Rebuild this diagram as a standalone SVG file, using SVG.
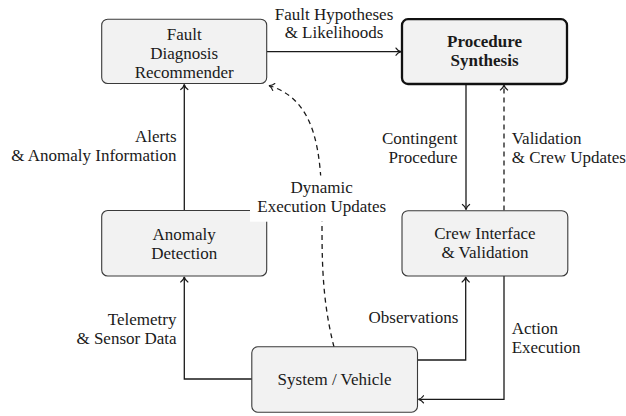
<svg xmlns="http://www.w3.org/2000/svg" width="626" height="416" viewBox="0 0 626 416">
<defs>
<style>
.box{fill:#f2f2f2;stroke:#3a3a3a;stroke-width:1.1}
.bold-box{fill:#f2f2f2;stroke:#111;stroke-width:2.3}
.t{font-family:"Liberation Serif","DejaVu Serif",serif;font-size:17px;fill:#1a1a1a}
.c{text-anchor:middle}
.r{text-anchor:end}
.b{font-weight:bold}
.edge{fill:none;stroke:#1a1a1a;stroke-width:1.3}
.dash{stroke-dasharray:5 4}
</style>
<marker id="arr" markerUnits="userSpaceOnUse" markerWidth="12" markerHeight="12" viewBox="-7 -6 8 12" refX="0" refY="0" orient="auto">
<path d="M-5,-3.6 C-3.6,-1.4 -1.6,-0.4 0,0 C-1.6,0.4 -3.6,1.4 -5,3.6" fill="none" stroke="#1a1a1a" stroke-width="1.2" stroke-dasharray="none" stroke-linecap="round"/>
</marker>
</defs>
<rect width="626" height="416" fill="#fff"/>

<g id="connectors">
<path class="edge" d="M267,51.7 H401" marker-end="url(#arr)"/>
<path class="edge" d="M184.3,210 V84.5" marker-end="url(#arr)"/>
<path class="edge" d="M466,84.5 V209.5" marker-end="url(#arr)"/>
<path class="edge dash" d="M504,210.5 V85" marker-end="url(#arr)"/>
<path class="edge" d="M252,379 H184.3 V277" marker-end="url(#arr)"/>
<path class="edge" d="M417.5,360 H465.7 V277" marker-end="url(#arr)"/>
<path class="edge" d="M504,276 V399.3 H418.5" marker-end="url(#arr)"/>
<path class="edge dash" d="M334,347 C322,300 322,260 322,220 C322,150 316,100 269,85.5" marker-end="url(#arr)"/>
</g>

<g id="node-fault-diagnosis">
<rect class="box" x="101.7" y="19.2" width="165" height="64.3" rx="6"/>
<text class="t c" x="184.2" y="39.5">Fault</text>
<text class="t c" x="184.2" y="58.5">Diagnosis</text>
<text class="t c" x="184.2" y="77.5">Recommender</text>
</g>

<g id="node-procedure-synthesis">
<rect class="bold-box" x="402" y="19.2" width="165" height="64.8" rx="6"/>
<text class="t c b" x="484.5" y="46.7">Procedure</text>
<text class="t c b" x="484.5" y="65.7">Synthesis</text>
</g>

<g id="node-anomaly-detection">
<rect class="box" x="101.7" y="210.5" width="165" height="65.5" rx="6"/>
<text class="t c" x="184.2" y="240">Anomaly</text>
<text class="t c" x="184.2" y="258.5">Detection</text>
</g>

<g id="node-crew-interface">
<rect class="box" x="402" y="210.7" width="165.8" height="65.3" rx="6"/>
<text class="t c" x="484.9" y="239.3">Crew Interface</text>
<text class="t c" x="484.9" y="257.5">&amp; Validation</text>
</g>

<g id="node-system-vehicle">
<rect class="box" x="251.8" y="346.8" width="165.7" height="65.4" rx="6"/>
<text class="t c" x="334.6" y="384.5">System / Vehicle</text>
</g>

<g id="labels">
<text class="t c" x="334" y="19.5">Fault Hypotheses</text>
<text class="t c" x="334" y="37.7">&amp; Likelihoods</text>
<text class="t r" x="176.5" y="141.5">Alerts</text>
<text class="t r" x="176.5" y="160.5">&amp; Anomaly Information</text>
<text class="t r" x="457.5" y="144">Contingent</text>
<text class="t r" x="457.5" y="163">Procedure</text>
<text class="t" x="511.7" y="144">Validation</text>
<text class="t" x="511.7" y="163">&amp; Crew Updates</text>
<rect x="250" y="175.5" width="143" height="46.2" fill="#fff"/>
<text class="t c" x="321.7" y="192.7">Dynamic</text>
<text class="t c" x="321.7" y="211.7">Execution Updates</text>
<text class="t r" x="176.5" y="325">Telemetry</text>
<text class="t r" x="176.5" y="344">&amp; Sensor Data</text>
<text class="t r" x="458.3" y="323.3">Observations</text>
<text class="t" x="511.7" y="334">Action</text>
<text class="t" x="511.7" y="352.7">Execution</text>
</g>
</svg>
